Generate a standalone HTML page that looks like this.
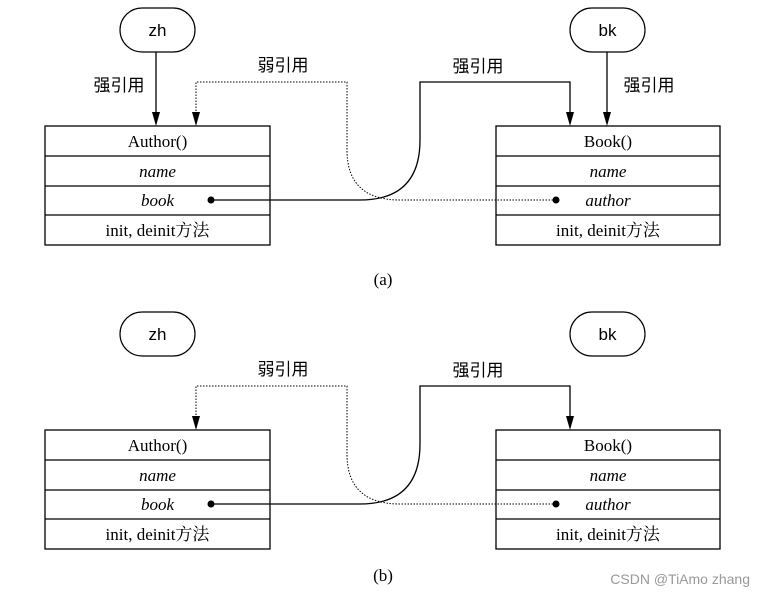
<!DOCTYPE html>
<html><head><meta charset="utf-8"><style>
html,body{margin:0;padding:0;background:#fff;}
svg{display:block;}
text{font-family:"Liberation Serif","Noto Serif CJK SC",serif;font-size:17px;fill:#000;}
.cj{font-family:"Liberation Sans","Noto Sans CJK SC",sans-serif;font-size:17px;}
.i{font-style:italic;}
</style></head><body>
<svg width="765" height="598" viewBox="0 0 765 598" xmlns="http://www.w3.org/2000/svg">
<defs>
<marker id="ar" markerWidth="8" markerHeight="14" refX="4" refY="13" orient="auto" markerUnits="userSpaceOnUse">
<path d="M0,0 L8,0 L4,13 Z" fill="#000" transform="rotate(0)"/>
</marker>
<g id="base">
  <rect x="120" y="8" width="75" height="44" rx="22" fill="#fff" stroke="#000" stroke-width="1.2"/>
  <text x="157.5" y="36" text-anchor="middle" class="cj" style="font-family:'Liberation Sans',sans-serif">zh</text>
  <rect x="570" y="8" width="75" height="44" rx="22" fill="#fff" stroke="#000" stroke-width="1.2"/>
  <text x="607.5" y="36" text-anchor="middle" style="font-family:'Liberation Sans',sans-serif">bk</text>
  <!-- Author box -->
  <rect x="45" y="126" width="225" height="119" fill="#fff" stroke="#000" stroke-width="1.3"/>
  <line x1="45" y1="156" x2="270" y2="156" stroke="#000" stroke-width="1.2"/>
  <line x1="45" y1="186" x2="270" y2="186" stroke="#000" stroke-width="1.2"/>
  <line x1="45" y1="215" x2="270" y2="215" stroke="#000" stroke-width="1.2"/>
  <text x="157.5" y="147" text-anchor="middle">Author()</text>
  <text x="157.5" y="177" text-anchor="middle" class="i">name</text>
  <text x="157.5" y="206" text-anchor="middle" class="i">book</text>
  <text x="157.5" y="236" text-anchor="middle">init, deinit方法</text>
  <!-- Book box -->
  <rect x="496" y="126" width="224" height="119" fill="#fff" stroke="#000" stroke-width="1.3"/>
  <line x1="496" y1="156" x2="720" y2="156" stroke="#000" stroke-width="1.2"/>
  <line x1="496" y1="186" x2="720" y2="186" stroke="#000" stroke-width="1.2"/>
  <line x1="496" y1="215" x2="720" y2="215" stroke="#000" stroke-width="1.2"/>
  <text x="608" y="147" text-anchor="middle">Book()</text>
  <text x="608" y="177" text-anchor="middle" class="i">name</text>
  <text x="608" y="206" text-anchor="middle" class="i">author</text>
  <text x="608" y="236" text-anchor="middle">init, deinit方法</text>
  <!-- weak ref -->
  <path d="M556,200 L400,200 Q347,200 347,150 L347,82 L196,82 L196,112" fill="none" stroke="#000" stroke-width="1" stroke-dasharray="1.5,1.5"/>
  <path d="M192,112 L200,112 L196,126 Z" fill="#000"/>
  <circle cx="556" cy="200" r="3.5" fill="#000"/>
  <text x="283" y="71" text-anchor="middle" class="cj">弱引用</text>
  <!-- strong ref -->
  <path d="M211,200 L360,200 Q420,200 420,140 L420,82 L570,82 L570,112" fill="none" stroke="#000" stroke-width="1.3"/>
  <path d="M566,112 L574,112 L570,126 Z" fill="#000"/>
  <circle cx="211" cy="200" r="3.5" fill="#000"/>
  <text x="478" y="72" text-anchor="middle" class="cj">强引用</text>
</g>
</defs>
<use href="#base"/>
<!-- top arrows from zh and bk -->
<line x1="156" y1="52" x2="156" y2="112" stroke="#000" stroke-width="1.3"/>
<path d="M152,112 L160,112 L156,126 Z" fill="#000"/>
<text x="119" y="91" text-anchor="middle" class="cj">强引用</text>
<line x1="607" y1="52" x2="607" y2="112" stroke="#000" stroke-width="1.3"/>
<path d="M603,112 L611,112 L607,126 Z" fill="#000"/>
<text x="649" y="91" text-anchor="middle" class="cj">强引用</text>
<text x="383" y="285" text-anchor="middle">(a)</text>
<use href="#base" transform="translate(0,304)"/>
<text x="383" y="581" text-anchor="middle">(b)</text>
<text x="750" y="584" text-anchor="end" style="font-family:'Liberation Sans',sans-serif;font-size:14px;fill:#999">CSDN @TiAmo zhang</text>
</svg>
</body></html>
